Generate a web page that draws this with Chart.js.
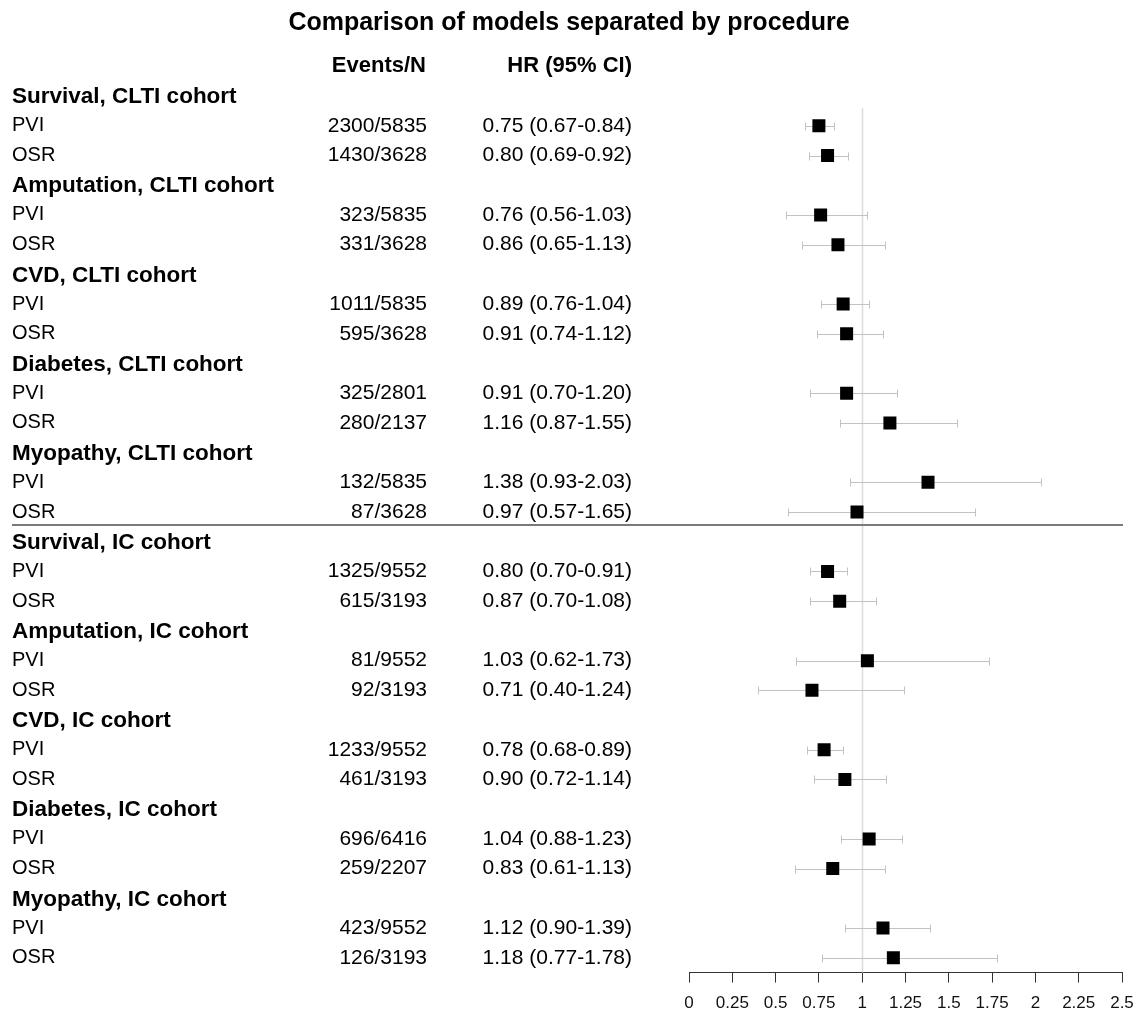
<!DOCTYPE html>
<html>
<head>
<meta charset="utf-8">
<script src="https://cdn.jsdelivr.net/npm/chart.js@4/dist/chart.umd.min.js"></script>
<style>
  html, body { margin: 0; padding: 0; background: #fff; overflow: hidden; }
  canvas { display: block; }
</style>
</head>
<body>
<canvas id="forest" width="1138" height="1030"></canvas>
<script>
// Outcome groups, each followed by a PVI and an OSR row
const groups = [
  'Survival, CLTI cohort', 'Amputation, CLTI cohort', 'CVD, CLTI cohort',
  'Diabetes, CLTI cohort', 'Myopathy, CLTI cohort',
  'Survival, IC cohort', 'Amputation, IC cohort', 'CVD, IC cohort',
  'Diabetes, IC cohort', 'Myopathy, IC cohort'
];
const procedures = ['PVI', 'OSR'];

// Events and totals, one entry per procedure row (PVI, OSR, PVI, OSR, ...)
const events = [2300, 1430, 323, 331, 1011, 595, 325, 280, 132, 87,
                1325, 615, 81, 92, 1233, 461, 696, 259, 423, 126];
const totals = [5835, 3628, 5835, 3628, 5835, 3628, 2801, 2137, 5835, 3628,
                9552, 3193, 9552, 3193, 9552, 3193, 6416, 2207, 9552, 3193];

// Hazard ratios with 95% confidence limits
const hr    = [0.75, 0.80, 0.76, 0.86, 0.89, 0.91, 0.91, 1.16, 1.38, 0.97,
               0.80, 0.87, 1.03, 0.71, 0.78, 0.90, 1.04, 0.83, 1.12, 1.18];
const ciLow = [0.67, 0.69, 0.56, 0.65, 0.76, 0.74, 0.70, 0.87, 0.93, 0.57,
               0.70, 0.70, 0.62, 0.40, 0.68, 0.72, 0.88, 0.61, 0.90, 0.77];
const ciHigh= [0.84, 0.92, 1.03, 1.13, 1.04, 1.12, 1.20, 1.55, 2.03, 1.65,
               0.91, 1.08, 1.73, 1.24, 0.89, 1.14, 1.23, 1.13, 1.39, 1.78];

// Axis tick labels
const tickLabels = ['0', '0.25', '0.5', '0.75', '1', '1.25', '1.5', '1.75', '2', '2.25', '2.5'];

const FONT = '"Liberation Sans", Arial, Helvetica, sans-serif';

// row index on the hidden y scale: header rows at 3g, procedure rows after
const groupRow = g => 3 * g;
const estRow = i => 3 * Math.floor(i / 2) + 1 + (i % 2);

const fmt = v => v.toFixed(2);

const forestPlugin = {
  id: 'forest',
  beforeDatasetsDraw(chart) {
    const { ctx, scales: { x, y }, chartArea } = chart;
    ctx.save();
    // line of no effect at HR = 1
    ctx.strokeStyle = '#dcdcdc';
    ctx.lineWidth = 1.5;
    const x1 = Math.round(x.getPixelForValue(1)) + 0.5;
    ctx.beginPath();
    ctx.moveTo(x1, chartArea.top);
    ctx.lineTo(x1, chartArea.bottom);
    ctx.stroke();

    // confidence interval whiskers with end caps
    ctx.strokeStyle = '#c2c2c2';
    ctx.lineWidth = 1;
    hr.forEach((v, i) => {
      const py = Math.round(y.getPixelForValue(estRow(i))) + 0.5;
      const a = Math.round(x.getPixelForValue(ciLow[i])) + 0.5;
      const b = Math.round(x.getPixelForValue(ciHigh[i])) + 0.5;
      ctx.beginPath();
      ctx.moveTo(a, py); ctx.lineTo(b, py);
      ctx.moveTo(a, py - 4); ctx.lineTo(a, py + 4);
      ctx.moveTo(b, py - 4); ctx.lineTo(b, py + 4);
      ctx.stroke();
    });
    ctx.restore();
  },
  afterDraw(chart) {
    const { ctx, scales: { y } } = chart;
    ctx.save();
    ctx.fillStyle = '#000';
    ctx.textBaseline = 'middle';

    // title
    ctx.font = 'bold 25px ' + FONT;
    ctx.textAlign = 'center';
    ctx.fillText('Comparison of models separated by procedure', 569, 23);

    // column headers
    const headY = y.getPixelForValue(-1);
    ctx.font = 'bold 22px ' + FONT;
    ctx.textAlign = 'right';
    ctx.fillText('Events/N', 426, headY);
    ctx.fillText('HR (95% CI)', 632, headY);

    // group headers
    ctx.textAlign = 'left';
    ctx.font = 'bold 22.5px ' + FONT;
    groups.forEach((g, gi) => {
      ctx.fillText(g, 12, y.getPixelForValue(groupRow(gi)) + 1);
    });

    // procedure rows
    hr.forEach((v, i) => {
      const py = y.getPixelForValue(estRow(i));
      ctx.textAlign = 'left';
      ctx.font = '20px ' + FONT;
      ctx.fillText(procedures[i % 2], 12, py);
      ctx.textAlign = 'right';
      ctx.font = '21px ' + FONT;
      ctx.fillText(events[i] + '/' + totals[i], 427, py);
      ctx.fillText(fmt(v) + ' (' + fmt(ciLow[i]) + '-' + fmt(ciHigh[i]) + ')', 632, py);
    });

    // divider between the CLTI and IC cohorts
    const sepY = Math.round(y.getPixelForValue(14.45));
    ctx.strokeStyle = '#7a7a7a';
    ctx.lineWidth = 2;
    ctx.beginPath();
    ctx.moveTo(12, sepY);
    ctx.lineTo(1123, sepY);
    ctx.stroke();
    ctx.restore();
  }
};

new Chart(document.getElementById('forest'), {
  type: 'scatter',
  data: {
    datasets: [{
      label: 'HR',
      data: hr.map((v, i) => ({ x: v, y: estRow(i) })),
      pointStyle: 'rect',
      pointRadius: 9.2,
      pointHoverRadius: 9.2,
      backgroundColor: '#000',
      borderColor: '#000',
      borderWidth: 0
    }]
  },
  options: {
    responsive: false,
    animation: false,
    devicePixelRatio: 1,
    layout: { padding: { left: 689, right: 16, top: 108, bottom: 5 } },
    plugins: { legend: { display: false }, tooltip: { enabled: false } },
    scales: {
      x: {
        type: 'linear',
        min: 0,
        max: 2.5,
        afterFit: scale => { scale.paddingLeft = 0; scale.paddingRight = 0; },
        ticks: {
          stepSize: 0.25,
          autoSkip: false,
          maxRotation: 0,
          padding: 11,
          color: '#111',
          font: { family: FONT, size: 17 },
          callback: (v, i) => tickLabels[i]
        },
        grid: { drawOnChartArea: false, drawTicks: true, tickLength: 10, color: '#333', lineWidth: 1 },
        border: { display: true, color: '#333', width: 1 }
      },
      y: {
        type: 'linear',
        display: false,
        reverse: true,
        min: 0.4,
        max: 29.5
      }
    }
  },
  plugins: [forestPlugin]
});
</script>
</body>
</html>
